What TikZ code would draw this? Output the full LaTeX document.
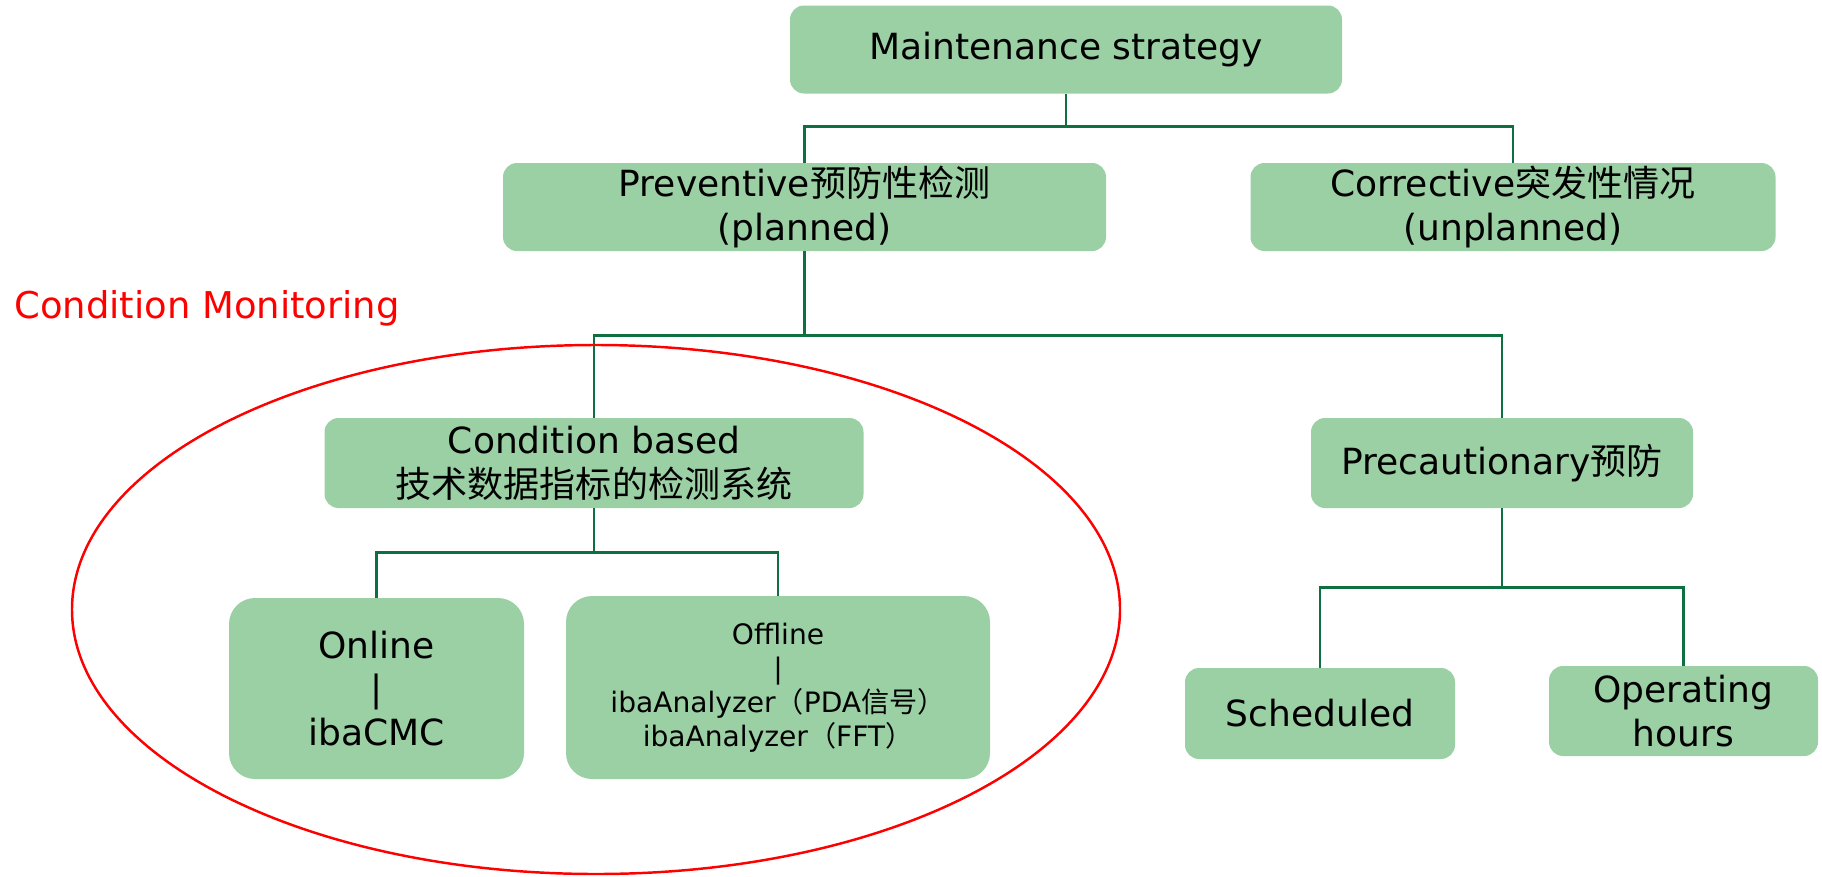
\documentclass[tikz,border=0pt]{standalone}
\usepackage{fontspec}
\setmainfont{DejaVu Sans}
\newfontfamily\cjk{Noto Sans CJK SC}
\usetikzlibrary{positioning, shapes.geometric}
\definecolor{cfill}{HTML}{9BCFA4}
\definecolor{cline}{HTML}{0E7040}
\definecolor{cred}{HTML}{FF0000}
\tikzset{
  every picture/.style={font=\fontsize{20.5}{25}\selectfont},
  box/.style={fill=cfill, rounded corners=0.28cm, align=center, inner sep=0pt, minimum height=1.76cm},
  bigbox/.style={box, rounded corners=0.52cm},
  link/.style={draw=cline, line width=1.4pt},
  small/.style={font=\fontsize{16}{19.3}\selectfont},
}

\begin{document}
\begin{tikzpicture}
  \useasboundingbox (0,0) rectangle (36.44,-17.52);
  % boxes
  \node[box, minimum width=11.04cm] (strat) at (21.32,-0.99) {Maintenance strategy};
  \node[box, minimum width=12.06cm] (prev) at (16.09,-4.14) {Preventive{\cjk 预防性检测}\\(planned)};
  \node[box, minimum width=10.5cm] (corr) at (30.26,-4.14) {Corrective{\cjk 突发性情况}\\(unplanned)};
  \node[box, minimum width=10.78cm, minimum height=1.8cm] (cond) at (11.88,-9.26) {Condition based\\{\cjk 技术数据指标的检测系统}};
  \node[box, minimum width=7.64cm, minimum height=1.8cm] (prec) at (30.04,-9.26) {Precautionary{\cjk 预防}};
  \node[bigbox, minimum width=5.9cm, minimum height=3.62cm] (online) at (7.53,-13.77) {Online\\|\\ibaCMC};
  \node[bigbox, small, minimum width=8.48cm, minimum height=3.66cm] (offline) at (15.56,-13.75) {Offline\\|\\ibaAnalyzer{\cjk （}PDA{\cjk 信号）}\\ibaAnalyzer{\cjk （}FFT{\cjk ）}};
  \node[box, minimum width=5.4cm, minimum height=1.82cm] (sched) at (26.4,-14.27) {Scheduled};
  \node[box, minimum width=5.38cm, minimum height=1.8cm] (ophrs) at (33.67,-14.22) {Operating\\hours};
  % tree links
  \draw[link] (strat.south) -- ++(0,-0.65) -| (prev.north);
  \draw[link] (strat.south) -- ++(0,-0.65) -| (corr.north);
  \draw[link] (prev.south) -- ++(0,-1.68) -| (cond.north);
  \draw[link] (prev.south) -- ++(0,-1.68) -| (prec.north);
  \draw[link] (cond.south) -- ++(0,-0.88) -| (online.north);
  \draw[link] (cond.south) -- ++(0,-0.88) -| (offline.north);
  \draw[link] (prec.south) -- ++(0,-1.58) -| (sched.north);
  \draw[link] (prec.south) -- ++(0,-1.58) -| (ophrs.north);
  % condition monitoring group
  \node[ellipse, draw=cred, line width=1.4pt, minimum width=20.96cm, minimum height=10.58cm, inner sep=0pt] (cmon) at (11.92,-12.19) {};
  \node[anchor=west, text=cred, inner sep=0pt, font=\fontsize{21}{25}\selectfont] (cmlab) at (0.28,-6.16) {Condition Monitoring};
\end{tikzpicture}
\end{document}
